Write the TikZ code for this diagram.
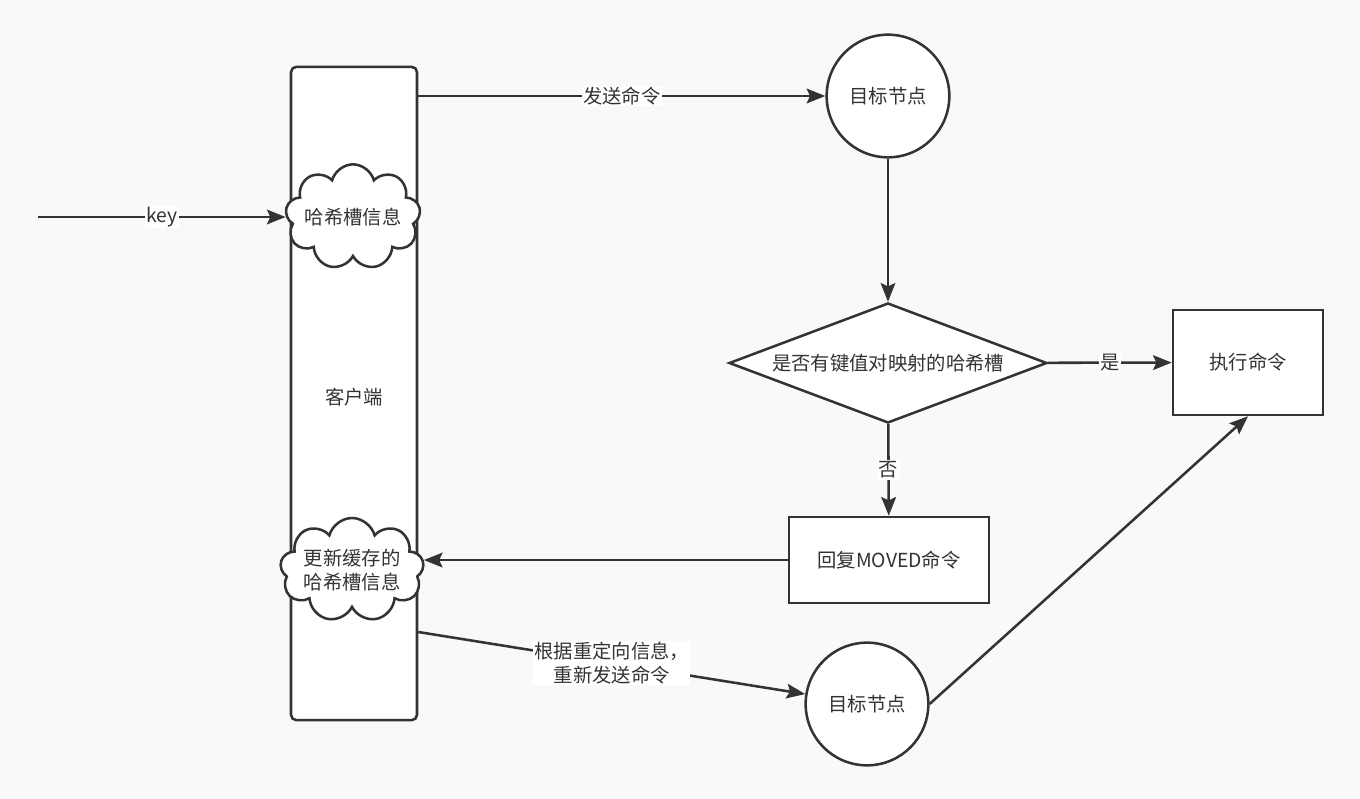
\documentclass[tikz,border=0pt]{standalone}
\usepackage{fontspec}
\setmainfont{Noto Sans CJK SC}
\usepackage{tikz}
\usetikzlibrary{positioning}
\usetikzlibrary{arrows.meta}
\usetikzlibrary{shapes.geometric,shapes.symbols}
\definecolor{inkgray}{HTML}{333333}
\definecolor{pagegray}{HTML}{F9F9F9}
\tikzset{clientbar/.style={rectangle,rounded corners=4pt,draw=inkgray,fill=white,
line width=1.9pt,minimum width=94.5pt,minimum height=490pt}}
\tikzset{hashcloud/.style={cloud,cloud puffs=9,cloud ignores aspect,draw=inkgray,fill=white,
line width=1.9pt,inner sep=0pt,align=center}}
\tikzset{targetnode/.style={circle,draw=inkgray,fill=white,line width=1.9pt,
inner sep=0pt,minimum size=92pt}}
\tikzset{checkdiamond/.style={diamond,aspect=2.65,draw=inkgray,fill=white,line width=1.9pt,
inner sep=0pt,minimum width=238.5pt,minimum height=90pt}}
\tikzset{actionbox/.style={rectangle,draw=inkgray,fill=white,line width=1.9pt,inner sep=2pt}}
\tikzset{steplabel/.style={rectangle,draw=none,fill=white,inner sep=1pt,align=center}}
\tikzset{flow/.style={line width=1.9pt,draw=inkgray,-{Stealth[length=14pt,width=11pt,inset=2.5pt]}}}

\begin{document}
\begin{tikzpicture}[x=0.75pt,y=-0.75pt,text=inkgray,font=\fontsize{14.5}{17.5}\selectfont]

    \fill[pagegray] (0,0) rectangle (1360,799);
    \useasboundingbox (0,0) rectangle (1360,799);

    \node[clientbar] (client) at (354,393.5) {};
    \node (clientname) at (354,397) {客户端};
    \node[hashcloud,minimum width=98pt,minimum height=79pt] (hashA) at (353,217) {哈希槽信息};
    \node[hashcloud,minimum width=102pt,minimum height=78pt] (hashB) at (352,570) {更新缓存的\\哈希槽信息};

    \node[targetnode] (nodeA) at (888,96) {目标节点};
    \node[checkdiamond] (check) at (888,363) {是否有键值对映射的哈希槽};
    \node[actionbox,minimum width=112.5pt,minimum height=78.75pt] (exec) at (1248,362.5) {执行命令};
    \node[actionbox,minimum width=150pt,minimum height=64.5pt] (moved) at (889,560) {回复MOVED命令};
    \node[targetnode] (nodeB) at (867,704) {目标节点};

    \coordinate (keystart) at (38,217);
    \coordinate (redirA) at (418,632);

    \draw[flow] (keystart) -- node[steplabel] {key} (keystart -| hashA.west);
    \draw[flow] (nodeA -| client.east) -- node[steplabel] {发送命令} (nodeA);
    \draw[flow] (nodeA) -- (check);
    \draw[flow] (check) -- node[steplabel] {是} (exec);
    \draw[flow] (check) -- node[steplabel] {否} (moved);
    \draw[flow] (moved.west) -- (moved.west -| hashB.east);
    \draw[flow] (client.east |- redirA) -- node[steplabel] {根据重定向信息，\\重新发送命令} (nodeB);
    \draw[flow] (nodeB.east) -- (exec.south);

\end{tikzpicture}
\end{document}
